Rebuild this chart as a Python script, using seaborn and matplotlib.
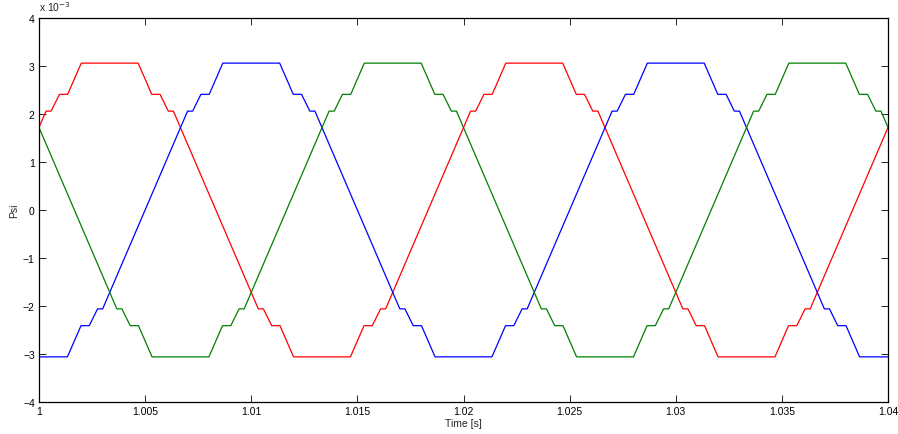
import numpy as np
import pandas as pd
import matplotlib
matplotlib.use("Agg")
import matplotlib.pyplot as plt
import seaborn as sns

# Flux linkage of the three phases, breakpoints of each piecewise-linear trace.
# Times are in ms after t = 1 s, flux values in units of 1e-3 Wb.
red_ms = [0.0, 0.333, 0.573, 0.963, 1.353, 1.993, 4.673, 5.313, 5.703, 6.093, 6.333,
          10.333, 10.573, 10.963, 11.353, 11.993, 14.673, 15.313, 15.703, 16.093, 16.333,
          20.333, 20.573, 20.963, 21.353, 21.993, 24.673, 25.313, 25.703, 26.093, 26.333,
          30.333, 30.573, 30.963, 31.353, 31.993, 34.673, 35.313, 35.703, 36.093, 36.333,
          40.0]
red_psi = [1.72, 2.06, 2.06, 2.41, 2.41, 3.06, 3.06, 2.41, 2.41, 2.06, 2.06,
           -2.06, -2.06, -2.41, -2.41, -3.06, -3.06, -2.41, -2.41, -2.06, -2.06,
           2.06, 2.06, 2.41, 2.41, 3.06, 3.06, 2.41, 2.41, 2.06, 2.06,
           -2.06, -2.06, -2.41, -2.41, -3.06, -3.06, -2.41, -2.41, -2.06, -2.06,
           1.72]

blue_ms = [0.0, 1.34, 1.98, 2.37, 2.76, 3.0,
           7.0, 7.24, 7.63, 8.02, 8.66, 11.34, 11.98, 12.37, 12.76, 13.0,
           17.0, 17.24, 17.63, 18.02, 18.66, 21.34, 21.98, 22.37, 22.76, 23.0,
           27.0, 27.24, 27.63, 28.02, 28.66, 31.34, 31.98, 32.37, 32.76, 33.0,
           37.0, 37.24, 37.63, 38.02, 38.66, 40.0]
blue_psi = [-3.06, -3.06, -2.41, -2.41, -2.06, -2.06,
            2.06, 2.06, 2.41, 2.41, 3.06, 3.06, 2.41, 2.41, 2.06, 2.06,
            -2.06, -2.06, -2.41, -2.41, -3.06, -3.06, -2.41, -2.41, -2.06, -2.06,
            2.06, 2.06, 2.41, 2.41, 3.06, 3.06, 2.41, 2.41, 2.06, 2.06,
            -2.06, -2.06, -2.41, -2.41, -3.06, -3.06]

green_ms = [0.0, 3.667, 3.907, 4.297, 4.687, 5.327, 8.007, 8.647, 9.037, 9.427, 9.667,
            13.667, 13.907, 14.297, 14.687, 15.327, 18.007, 18.647, 19.037, 19.427, 19.667,
            23.667, 23.907, 24.297, 24.687, 25.327, 28.007, 28.647, 29.037, 29.427, 29.667,
            33.667, 33.907, 34.297, 34.687, 35.327, 38.007, 38.647, 39.037, 39.427, 39.667,
            40.0]
green_psi = [1.72, -2.06, -2.06, -2.41, -2.41, -3.06, -3.06, -2.41, -2.41, -2.06, -2.06,
             2.06, 2.06, 2.41, 2.41, 3.06, 3.06, 2.41, 2.41, 2.06, 2.06,
             -2.06, -2.06, -2.41, -2.41, -3.06, -3.06, -2.41, -2.41, -2.06, -2.06,
             2.06, 2.06, 2.41, 2.41, 3.06, 3.06, 2.41, 2.41, 2.06, 2.06,
             1.72]

x_ticks = [1.0, 1.005, 1.01, 1.015, 1.02, 1.025, 1.03, 1.035, 1.04]
x_tick_labels = ["1", "1.005", "1.01", "1.015", "1.02", "1.025", "1.03", "1.035", "1.04"]
y_ticks = [-4, -3, -2, -1, 0, 1, 2, 3, 4]

t_start = 1.0
frames = []
for name, ms, psi in [("a", red_ms, red_psi), ("b", blue_ms, blue_psi), ("c", green_ms, green_psi)]:
    frames.append(pd.DataFrame({"t": t_start + np.array(ms) / 1000.0,
                                "psi": psi, "phase": name}))
df = pd.concat(frames, ignore_index=True)

sns.set_style("ticks")
plt.rcParams["font.family"] = ["Liberation Sans", "DejaVu Sans"]

fig = plt.figure(figsize=(8.98, 4.35), dpi=100)
ax = fig.add_axes([0.0434, 0.0736, 0.9455, 0.8827])

sns.lineplot(data=df, x="t", y="psi", hue="phase", sort=False, estimator=None,
             palette={"a": "#ff0000", "b": "#0000ff", "c": "#008000"},
             linewidth=0.9, legend=False, ax=ax)

ax.set_xlim(1.0, 1.04)
ax.set_ylim(-4, 4)
ax.set_xticks(x_ticks)
ax.set_xticklabels(x_tick_labels)
ax.set_yticks(y_ticks)
ax.tick_params(direction="in", length=5, width=0.6, labelsize=7.5,
               top=True, right=True, pad=3, colors="black")
for sp in ax.spines.values():
    sp.set_visible(True)
    sp.set_linewidth(0.9)
    sp.set_color("black")

ax.set_xlabel("Time [s]", fontsize=7.5, labelpad=1.5)
ax.set_ylabel("Psi", fontsize=7.5, labelpad=3)
ax.text(0.0, 1.012, r"x 10$^{-3}$", transform=ax.transAxes, fontsize=7.5,
        ha="left", va="bottom")

fig.savefig("out.png", dpi=100)
